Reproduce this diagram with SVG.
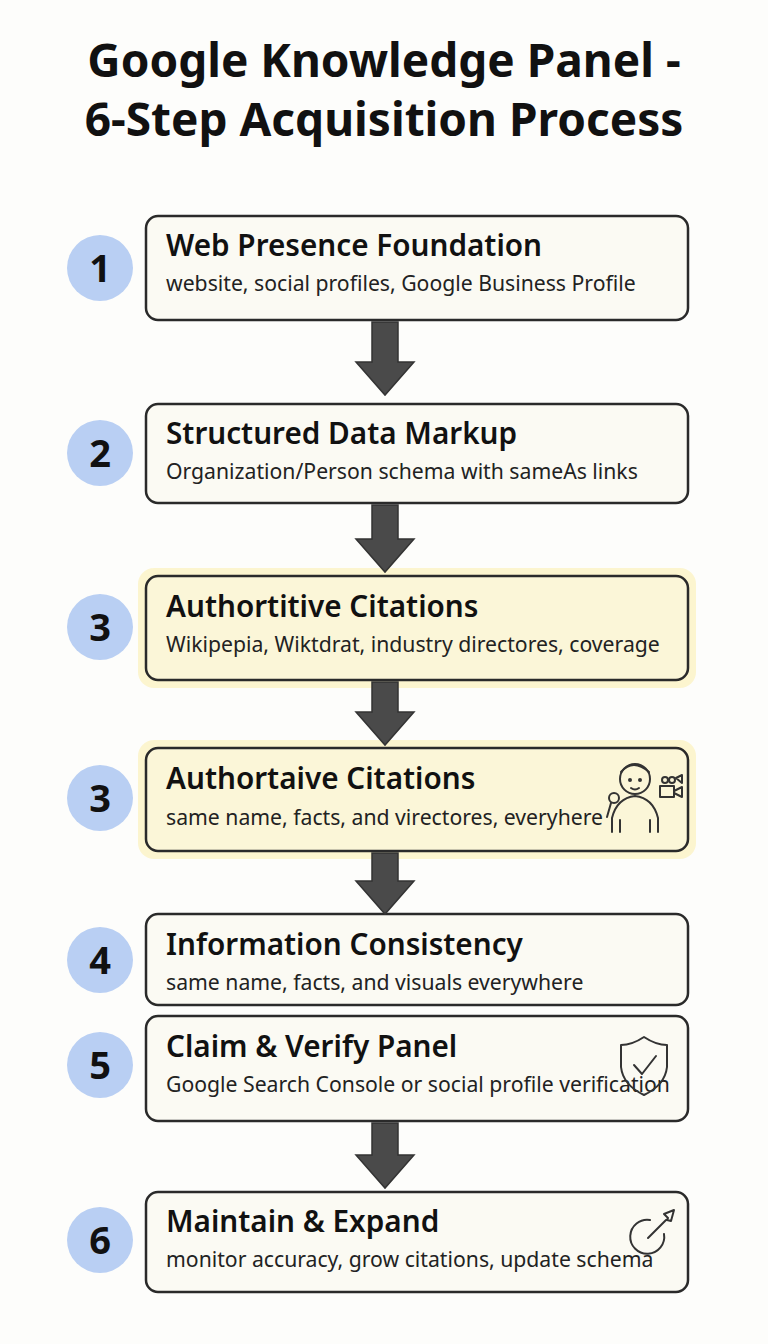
<svg xmlns="http://www.w3.org/2000/svg" width="768" height="1344" viewBox="0 0 768 1344">
<style>
.t{font-family:"Noto Sans",sans-serif;font-weight:700;font-size:46px;fill:#111;text-anchor:middle}
.h{font-family:"Noto Sans",sans-serif;font-weight:600;font-size:29.7px;fill:#111}
.s{font-family:"Noto Sans",sans-serif;font-size:21.2px;fill:#222}
.n{font-family:"Noto Sans",sans-serif;font-weight:700;font-size:38px;fill:#111;text-anchor:middle}
.box{fill:#fbfaf3;stroke:#2a2a2a;stroke-width:2.5}
.yb{fill:#fbf6d8;stroke:#2a2a2a;stroke-width:2.5}
.glow{fill:#fbf3c4;opacity:.8}
.c{fill:#b9cff3}
.ar{fill:#4a4a4a;stroke:#333;stroke-width:1.5}
.ic{fill:none;stroke:#333;stroke-width:2;stroke-linecap:round;stroke-linejoin:round}
</style>
<rect width="768" height="1344" fill="#fdfdfb"/>
<text class="t" x="384" y="77">Google Knowledge Panel -</text>
<text class="t" x="384" y="136">6-Step Acquisition Process</text>
<g id="step1"><circle class="c" cx="100" cy="268" r="33"/><text class="n" x="100" y="282">1</text>
<rect class="box" x="146" y="216" width="542" height="104" rx="12"/>
<text class="h" x="166" y="256">Web Presence Foundation</text>
<text class="s" x="166" y="291">website, social profiles, Google Business Profile</text></g>
<g id="step2"><circle class="c" cx="100" cy="453" r="33"/><text class="n" x="100" y="467">2</text>
<rect class="box" x="146" y="404" width="542" height="99" rx="12"/>
<text class="h" x="166" y="444">Structured Data Markup</text>
<text class="s" x="166" y="479">Organization/Person schema with sameAs links</text></g>
<g id="step3"><circle class="c" cx="100" cy="627" r="33"/><text class="n" x="100" y="641">3</text>
<rect class="glow" x="138" y="568" width="558" height="120" rx="16"/>
<rect class="yb" x="146" y="576" width="542" height="104" rx="12"/>
<text class="h" x="166" y="617">Authortitive Citations</text>
<text class="s" x="166" y="652">Wikipepia, Wiktdrat, industry directores, coverage</text></g>
<g id="step3b"><circle class="c" cx="100" cy="798" r="33"/><text class="n" x="100" y="812">3</text>
<rect class="glow" x="138" y="740" width="558" height="119" rx="16"/>
<rect class="yb" x="146" y="748" width="542" height="103" rx="12"/>
<text class="h" x="166" y="789">Authortaive Citations</text>
<text class="s" x="166" y="825">same name, facts, and virectores, everyhere</text>
<g class="ic"><circle cx="635" cy="779" r="15"/><path d="M621 772q12-14 28 0"/><circle cx="630" cy="780" r="1"/><circle cx="640" cy="780" r="1"/><path d="M631 788q4 3 8 0"/><path d="M612 832v-14q5-20 23-22q18 2 23 22v14M620 820v12M650 820v12"/><circle cx="614" cy="798" r="5"/><path d="M611 803l-4 14"/><rect x="660" y="786" width="14" height="11"/><path d="M674 791l8-4v10l-8-4"/><circle cx="665" cy="780" r="3"/><circle cx="672" cy="780" r="3"/><path d="M676 778l6-3v8z"/></g></g>
<g id="step4"><circle class="c" cx="100" cy="960" r="33"/><text class="n" x="100" y="974">4</text>
<rect class="box" x="146" y="914" width="542" height="91" rx="12"/>
<text class="h" x="166" y="955">Information Consistency</text>
<text class="s" x="166" y="990">same name, facts, and visuals everywhere</text></g>
<g id="step5"><circle class="c" cx="100" cy="1065" r="33"/><text class="n" x="100" y="1079">5</text>
<rect class="box" x="146" y="1016" width="542" height="105" rx="12"/>
<text class="h" x="166" y="1057">Claim &amp; Verify Panel</text>
<text class="s" x="166" y="1092">Google Search Console or social profile verification</text>
<path class="ic" d="M644 1037q-12 8-23 8v22q2 18 23 28q21-10 23-28v-22q-11 0-23-8z M634 1065l8 9 14-18"/></g>
<g id="step6"><circle class="c" cx="100" cy="1240" r="33"/><text class="n" x="100" y="1254">6</text>
<rect class="box" x="146" y="1192" width="542" height="100" rx="12"/>
<text class="h" x="166" y="1232">Maintain &amp; Expand</text>
<text class="s" x="166" y="1267">monitor accuracy, grow citations, update schema</text>
<path class="ic" d="M650 1220a17 17 0 1 0 14 14M648 1238l18-18M664 1214l10-4-3 11-4-1 1-2z"/></g>
<g id="connectors">
<path class="ar" d="M372 322h26v40h16l-29 33-29-33h16z"/>
<path class="ar" d="M372 505h26v34h16l-29 33-29-33h16z"/>
<path class="ar" d="M372 682h26v30h16l-29 33-29-33h16z"/>
<path class="ar" d="M372 853h26v28h16l-29 33-29-33h16z"/>
<path class="ar" d="M372 1123h26v32h16l-29 33-29-33h16z"/>
</g>
</svg>
